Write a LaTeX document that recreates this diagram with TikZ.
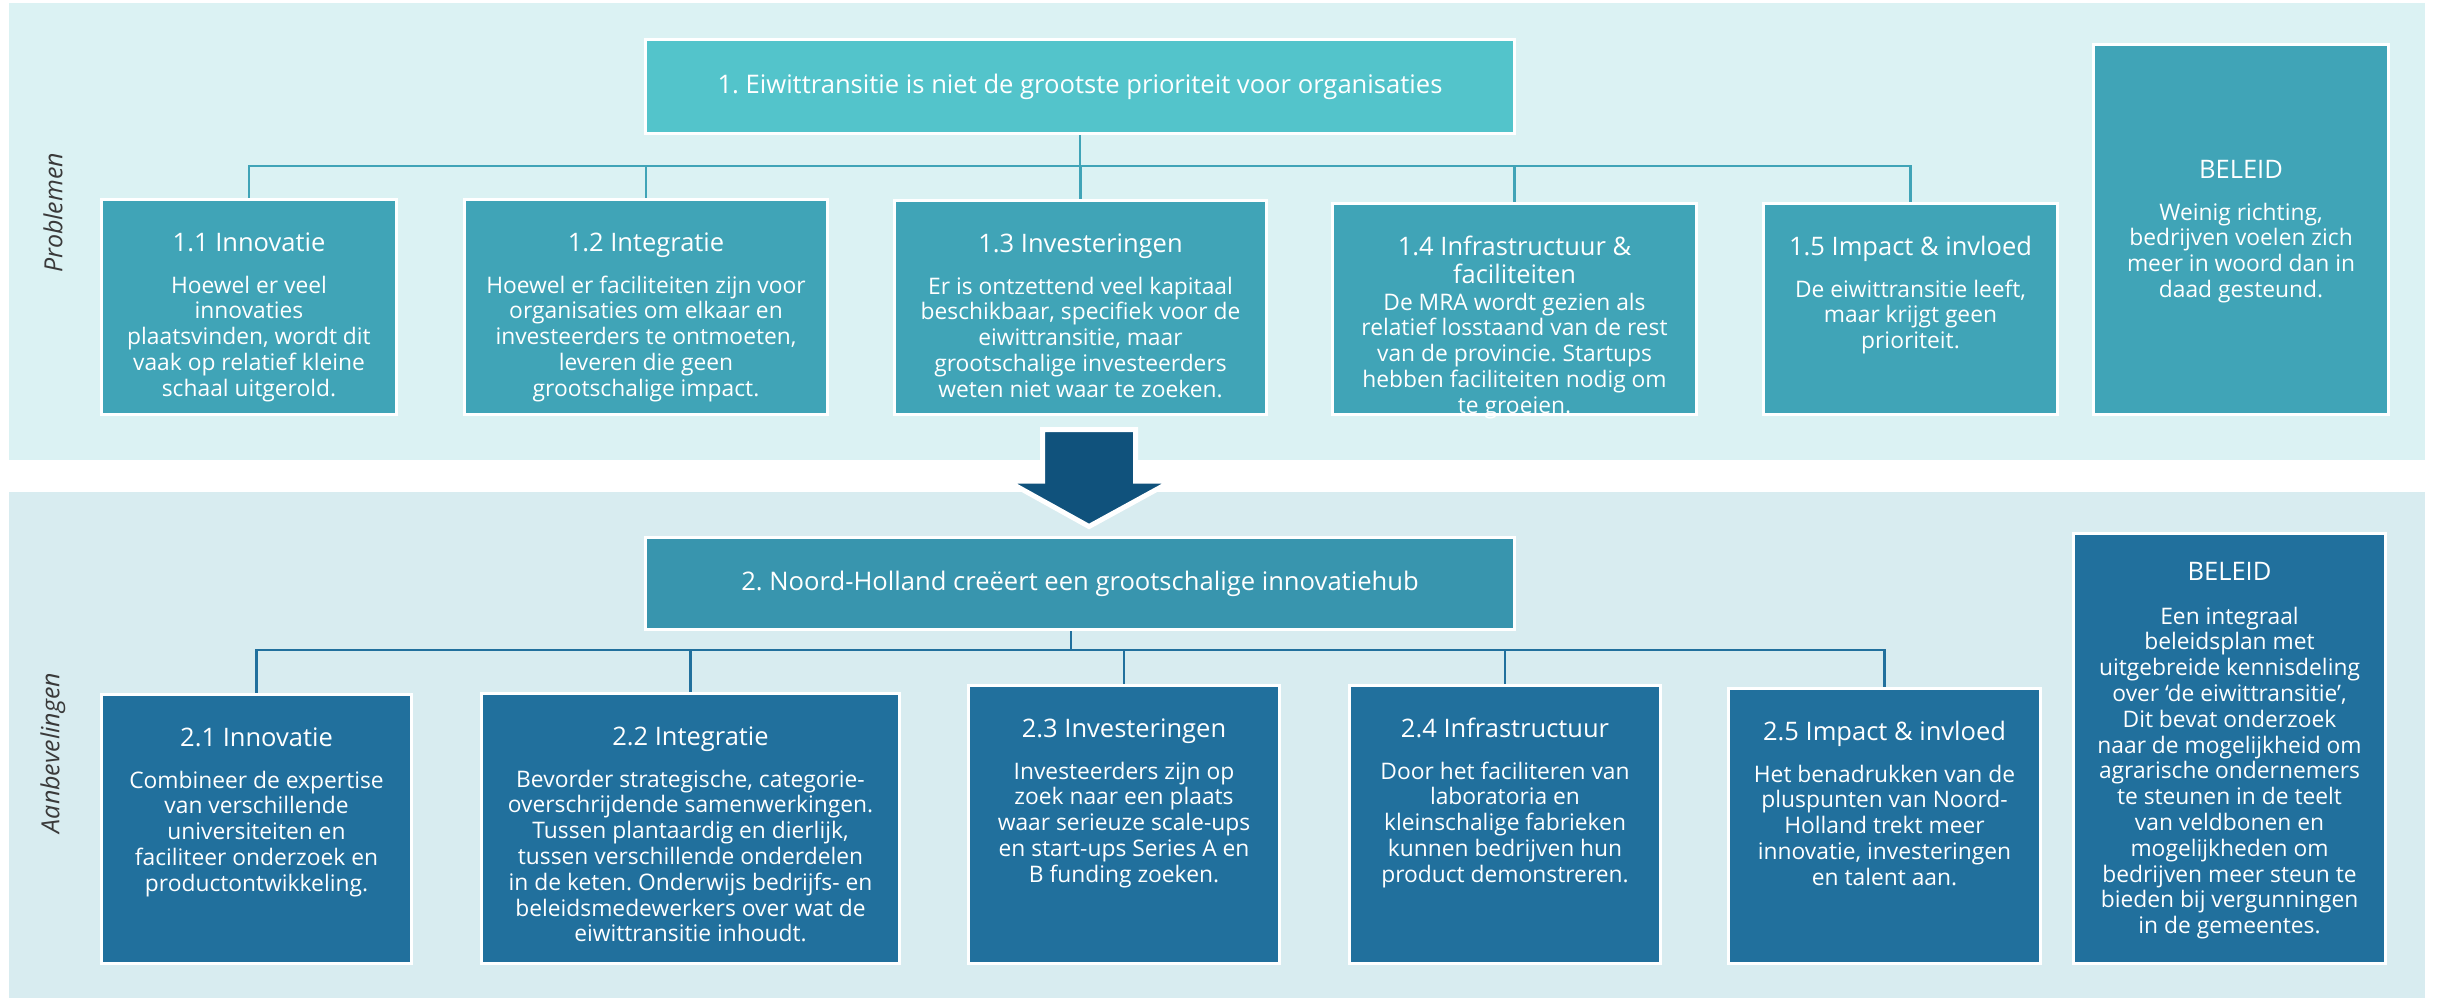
\documentclass[tikz,border=0pt]{standalone}
\usepackage{fontspec}
\setmainfont{Open Sans}
\usetikzlibrary{positioning}
\frenchspacing
\definecolor{panelA}{HTML}{DBF2F3}
\definecolor{panelB}{HTML}{D8ECF0}
\definecolor{titleA}{HTML}{53C4CB}
\definecolor{cellA}{HTML}{40A4B7}
\definecolor{titleB}{HTML}{3895AE}
\definecolor{cellB}{HTML}{21709D}
\definecolor{arrowblue}{HTML}{10527C}
\definecolor{labelgray}{HTML}{3A3A3A}
% lines of a cell, baseline on the first line
\newcommand{\cellrows}[1]{\begin{tabular}[t]{@{}c@{}}#1\end{tabular}}
\begin{document}
\begin{tikzpicture}[x=1pt,y=-1pt,
  every node/.append style={inner sep=0pt, outer sep=0pt},
  probtitle/.style={draw=white, line width=3pt, fill=titleA, text=white,
    font=\fontsize{25.6}{28}\selectfont},
  advtitle/.style={probtitle, fill=titleB},
  probcell/.style={draw=white, line width=3pt, fill=cellA},
  advcell/.style={probcell, fill=cellB},
  celltitle/.style={anchor=base, text=white,
    font=\fontsize{25.5}{28}\selectfont},
  celltext/.style={anchor=base, text=white,
    font=\fontsize{22.8}{25.8}\selectfont},
  sidelabel/.style={rotate=90, text=labelgray,
    font=\itshape\fontsize{25}{28}\selectfont},
  probline/.style={draw=cellA, line width=2.5pt, shorten <=1.5pt, shorten >=1.5pt},
  advline/.style={probline, draw=cellB}]
\useasboundingbox (0,0) rectangle (2438,1001);
\fill[white] (0,0) rectangle (2438,1001);
% panels
\fill[panelA] (9,3) rectangle (2425,460);
\fill[panelB] (9,492) rectangle (2425,998);
\node[sidelabel] (lblprob) at (53,213) {Problemen};
\node[sidelabel] (lbladv) at (53,753) {Aanbevelingen};
% problemen
\node[probtitle, minimum width=869pt, minimum height=94pt] (t1) at (1080,86.5)
  {1. Eiwittransitie is niet de grootste prioriteit voor organisaties};
\node[probcell, minimum width=295pt, minimum height=215pt] (b11) at (249,307) {};
\node[probcell, minimum width=363pt, minimum height=215pt] (b12) at (646,307) {};
\node[probcell, minimum width=372pt, minimum height=214pt] (b13) at (1080.5,307.5) {};
\node[probcell, minimum width=364pt, minimum height=211pt] (b14) at (1514.5,309) {};
\node[probcell, minimum width=294pt, minimum height=211pt] (b15) at (1910.5,309) {};
\node[probcell, minimum width=295pt, minimum height=370pt] (b16) at (2241,229.5) {};
\foreach \n in {b11,b12,b13,b14,b15}
  \draw[probline] (t1.south) -- ++(0,32.5) -| (\n.north);
\node[celltitle] (h11) at ([yshift=-51.5pt]b11.north) {1.1 Innovatie};
\node[celltext] (x11) at ([yshift=-42pt]h11.base) {\cellrows{Hoewel er veel\\innovaties\\plaatsvinden, wordt dit\\vaak op relatief kleine\\schaal uitgerold.}};
\node[celltitle] (h12) at ([yshift=-51.5pt]b12.north) {1.2 Integratie};
\node[celltext] (x12) at ([yshift=-42pt]h12.base) {\cellrows{Hoewel er faciliteiten zijn voor\\organisaties om elkaar en\\investeerders te ontmoeten,\\leveren die geen\\grootschalige impact.}};
\node[celltitle] (h13) at ([yshift=-51.5pt]b13.north) {1.3 Investeringen};
\node[celltext] (x13) at ([yshift=-42pt]h13.base) {\cellrows{Er is ontzettend veel kapitaal\\beschikbaar, specifiek voor de\\eiwittransitie, maar\\grootschalige investeerders\\weten niet waar te zoeken.}};
\node[celltitle] (h14) at ([yshift=-51.5pt]b14.north) {\cellrows{1.4 Infrastructuur \&\\faciliteiten}};
\node[celltext] (x14) at ([yshift=-55pt]h14.base) {\cellrows{De MRA wordt gezien als\\relatief losstaand van de rest\\van de provincie. Startups\\hebben faciliteiten nodig om\\te groeien.}};
\node[celltitle] (h15) at ([yshift=-51.5pt]b15.north) {1.5 Impact \& invloed};
\node[celltext] (x15) at ([yshift=-42pt]h15.base) {\cellrows{De eiwittransitie leeft,\\maar krijgt geen\\prioriteit.}};
\node[celltitle] (h16) at ([yshift=-133.5pt]b16.north) {BELEID};
\node[celltext] (x16) at ([yshift=-42pt]h16.base) {\cellrows{Weinig richting,\\bedrijven voelen zich\\meer in woord dan in\\daad gesteund.}};
% arrow
\draw[fill=arrowblue, draw=white, line width=5pt] (1042.5,429.5) -- (1135.5,429.5)
  -- (1135.5,481) -- (1172,481) -- (1089,526.5) -- (1007,481) -- (1042.5,481) -- cycle;
% aanbevelingen
\node[advtitle, minimum width=869pt, minimum height=92pt] (t2) at (1080,583.5)
  {2. Noord-Holland creëert een grootschalige innovatiehub};
\node[advcell, minimum width=310pt, minimum height=269pt] (b21) at (256.5,829) {};
\node[advcell, minimum width=418pt, minimum height=270pt] (b22) at (690.5,828.5) {};
\node[advcell, minimum width=311pt, minimum height=278pt] (b23) at (1124,824.5) {};
\node[advcell, minimum width=311pt, minimum height=278pt] (b24) at (1505,824.5) {};
\node[advcell, minimum width=312pt, minimum height=275pt] (b25) at (1884.5,826) {};
\node[advcell, minimum width=312pt, minimum height=430pt] (b26) at (2229.5,748.5) {};
\foreach \n in {b21,b22,b23,b24,b25}
  \draw[advline] ([xshift=-9pt]t2.south) -- ++(0,20.5) -| (\n.north);
\node[celltitle] (h21) at ([yshift=-51.5pt]b21.north) {2.1 Innovatie};
\node[celltext] (x21) at ([yshift=-42pt]h21.base) {\cellrows{Combineer de expertise\\van verschillende\\universiteiten en\\faciliteer onderzoek en\\productontwikkeling.}};
\node[celltitle] (h22) at ([yshift=-51.5pt]b22.north) {2.2 Integratie};
\node[celltext] (x22) at ([yshift=-42pt]h22.base) {\cellrows{Bevorder strategische, categorie-\\overschrijdende samenwerkingen.\\Tussen plantaardig en dierlijk,\\tussen verschillende onderdelen\\in de keten. Onderwijs bedrijfs- en\\beleidsmedewerkers over wat de\\eiwittransitie inhoudt.}};
\node[celltitle] (h23) at ([yshift=-51.5pt]b23.north) {2.3 Investeringen};
\node[celltext] (x23) at ([yshift=-42pt]h23.base) {\cellrows{Investeerders zijn op\\zoek naar een plaats\\waar serieuze scale-ups\\en start-ups Series A en\\B funding zoeken.}};
\node[celltitle] (h24) at ([yshift=-51.5pt]b24.north) {2.4 Infrastructuur};
\node[celltext] (x24) at ([yshift=-42pt]h24.base) {\cellrows{Door het faciliteren van\\laboratoria en\\kleinschalige fabrieken\\kunnen bedrijven hun\\product demonstreren.}};
\node[celltitle] (h25) at ([yshift=-51.5pt]b25.north) {2.5 Impact \& invloed};
\node[celltext] (x25) at ([yshift=-42pt]h25.base) {\cellrows{Het benadrukken van de\\pluspunten van Noord-\\Holland trekt meer\\innovatie, investeringen\\en talent aan.}};
\node[celltitle] (h26) at ([yshift=-46.5pt]b26.north) {BELEID};
\node[celltext] (x26) at ([yshift=-44pt]h26.base) {\cellrows{Een integraal\\beleidsplan met\\uitgebreide kennisdeling\\over ‘de eiwittransitie’,\\Dit bevat onderzoek\\naar de mogelijkheid om\\agrarische ondernemers\\te steunen in de teelt\\van veldbonen en\\mogelijkheden om\\bedrijven meer steun te\\bieden bij vergunningen\\in de gemeentes.}};
\end{tikzpicture}
\end{document}
